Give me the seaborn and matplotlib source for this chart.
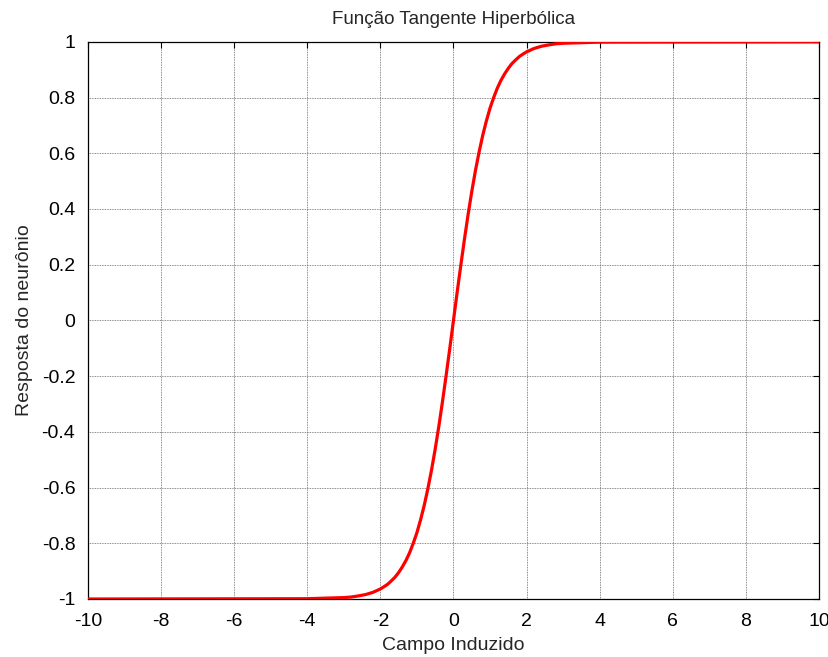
import matplotlib
matplotlib.use("Agg")
import matplotlib.pyplot as plt
import seaborn as sns
import pandas as pd

# Sampled points of the hyperbolic tangent response
campo = [-10.0, -4.0, -3.0, -2.8, -2.6, -2.4, -2.2, -2.0, -1.9, -1.8, -1.7, -1.6, -1.5,
         -1.4, -1.3, -1.2, -1.1, -1.0, -0.9, -0.8, -0.7, -0.6, -0.5, -0.4, -0.3,
         -0.2, -0.1, 0.0, 0.1, 0.2, 0.3, 0.4, 0.5, 0.6, 0.7, 0.8, 0.9, 1.0, 1.1,
         1.2, 1.3, 1.4, 1.5, 1.6, 1.7, 1.8, 1.9, 2.0, 2.2, 2.4, 2.6, 2.8, 3.0,
         4.0, 10.0]
resposta = [-1.000, -0.999, -0.995, -0.993, -0.989, -0.984, -0.976, -0.964, -0.956,
            -0.947, -0.935, -0.922, -0.905, -0.885, -0.862, -0.834, -0.800, -0.762,
            -0.716, -0.664, -0.604, -0.537, -0.462, -0.380, -0.291, -0.197, -0.100,
            0.000, 0.100, 0.197, 0.291, 0.380, 0.462, 0.537, 0.604, 0.664, 0.716,
            0.762, 0.800, 0.834, 0.862, 0.885, 0.905, 0.922, 0.935, 0.947, 0.956,
            0.964, 0.976, 0.984, 0.989, 0.993, 0.995, 0.999, 1.000]

x_ticks = list(range(-10, 11, 2))
y_ticks = [-1, -0.8, -0.6, -0.4, -0.2, 0, 0.2, 0.4, 0.6, 0.8, 1]
y_tick_labels = ["-1", "-0.8", "-0.6", "-0.4", "-0.2", "0", "0.2", "0.4", "0.6", "0.8", "1"]

sns.set_style("white")
plt.rcParams["font.family"] = ["Liberation Sans", "DejaVu Sans"]

df = pd.DataFrame({"Campo": campo, "Resposta": resposta})

fig = plt.figure(figsize=(8.29, 6.57), dpi=100)
ax = fig.add_axes([0.106, 0.0883, 0.882, 0.848])

sns.lineplot(data=df, x="Campo", y="Resposta", ax=ax, color="#ff0000",
             linewidth=2.3, sort=False, zorder=3)

ax.set_xlim(-10, 10)
ax.set_ylim(-1, 1)
ax.set_xticks(x_ticks)
ax.set_xticklabels([str(v) for v in x_ticks])
ax.set_yticks(y_ticks)
ax.set_yticklabels(y_tick_labels)

ax.grid(True, linestyle=(0, (1, 1)), color="#666666", linewidth=0.6, zorder=0)
ax.tick_params(direction="in", length=4, width=0.8, top=True, right=True,
               labelsize=14, colors="black")
ax.tick_params(axis="x", pad=10)
ax.tick_params(axis="y", pad=9)
for sp in ax.spines.values():
    sp.set_visible(True)
    sp.set_color("black")
    sp.set_linewidth(0.9)

ax.set_title("Função Tangente Hiperbólica", fontsize=13.5, pad=13)
ax.set_xlabel("Campo Induzido", fontsize=14, labelpad=5)
ax.set_ylabel("Resposta do neurônio", fontsize=14, labelpad=6)

fig.savefig("out.png", dpi=100)
